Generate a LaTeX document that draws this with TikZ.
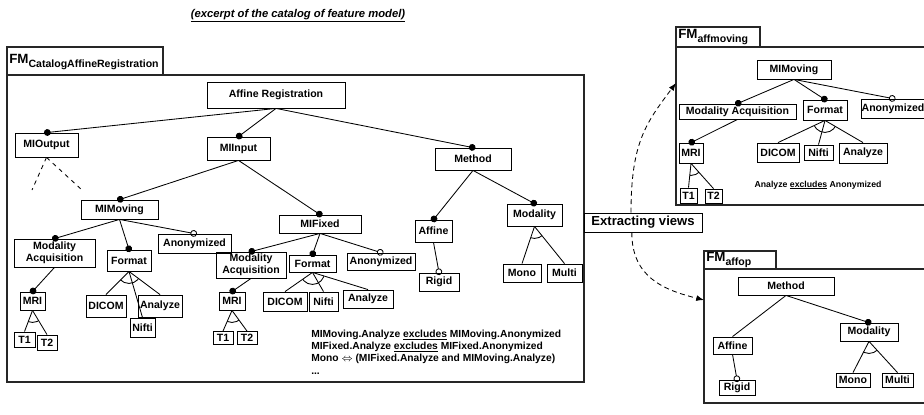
\documentclass[tikz,border=0pt]{standalone}
\usepackage{fontspec}
\setmainfont{Liberation Sans}
\usepackage{amsmath}
\usepackage{xcolor}
\usepackage{tikz}
\usetikzlibrary{arrows.meta}

\begin{document}
\begin{tikzpicture}[x=0.025cm, y=-0.025cm,
                    feat/.style={draw, line width=0.6pt, inner sep=0pt, align=center,
                                 font=\bfseries\fontsize{7.5}{8.5}\selectfont},
                    box/.style 2 args={minimum width=#1*0.025cm, minimum height=#2*0.025cm},
                    fmframe/.style={line width=0.9pt, draw=black!85},
                    link/.style={line width=0.6pt},
                    mand/.style={link, -{Circle[length=4.8pt]}, shorten >=-1.8pt},
                    opt/.style={link, -{Circle[open, length=4.8pt]}, shorten >=-1.8pt},
                    extract/.style={line width=0.6pt, dash pattern=on 3.5pt off 2.5pt, -{Latex[length=5.5pt]}}]
                    \useasboundingbox (0,0) rectangle (924,414);
                    \node [font=\bfseries\itshape\fontsize{8}{9}\selectfont] (title) at (298,16) {\underline{(excerpt of the catalog of feature model)}};

                    \draw [fmframe] (7,47) rectangle (163,75);
                    \draw [fmframe] (7,75) rectangle (584,382);
                    \node [anchor=west, inner sep=0pt] (fmcat) at (9,62) {{\bfseries\fontsize{9.5}{11}\selectfont FM}\raisebox{-2.5pt}{\bfseries\fontsize{7.5}{8}\selectfont CatalogAffineRegistration}};

                    \node [feat, box={138}{26}] (ar) at (276,95) {Affine Registration};
                    \node [feat, box={63}{24}] (mio) at (46.5,145) {MIOutput};
                    \node [feat, box={63}{23}] (mii) at (238.5,148.5) {MIInput};
                    \node [feat, box={76}{22}] (meth) at (473,159) {Method};
                    \node [feat, box={77}{19}] (mim) at (119.5,209.5) {MIMoving};
                    \node [feat, box={82}{18}] (mif) at (320,224) {MIFixed};

                    \node [feat, box={81}{28}] (mam) at (54.5,253) {Modality\\Acquisition};
                    \node [feat, box={44}{21}] (fom) at (129,260.5) {Format};
                    \node [feat, box={73}{19}] (anm) at (194.5,243.5) {Anonymized};
                    \node [feat, box={25}{18}] (mrm) at (32.5,301) {MRI};
                    \node [feat, box={21}{15}] (t1m) at (24.5,339.5) {T1};
                    \node [feat, box={20}{15}] (t2m) at (47,342.5) {T2};
                    \node [feat, box={40}{22}] (dim) at (106,306) {DICOM};
                    \node [feat, box={25}{19}] (nim) at (142.5,327.5) {Nifti};
                    \node [feat, box={44}{22}] (azm) at (160,306) {Analyze};

                    \node [feat, box={70}{26}] (maf) at (251,265) {Modality\\Acquisition};
                    \node [feat, box={47}{17}] (fof) at (312.5,263.5) {Format};
                    \node [feat, box={68}{17}] (anf) at (381,261.5) {Anonymized};
                    \node [feat, box={26}{18}] (mrf) at (232,301) {MRI};
                    \node [feat, box={20}{13}] (t1f) at (223,338) {T1};
                    \node [feat, box={20}{13}] (t2f) at (247,338) {T2};
                    \node [feat, box={44}{19}] (dif) at (285,301.5) {DICOM};
                    \node [feat, box={29}{19}] (nif) at (323.5,301.5) {Nifti};
                    \node [feat, box={50}{18}] (azf) at (368,299) {Analyze};

                    \node [feat, box={37}{22}] (afm) at (433.5,231) {Affine};
                    \node [feat, box={40}{18}] (rig) at (439,282) {Rigid};
                    \node [feat, box={55}{22}] (mod) at (534.5,215) {Modality};
                    \node [feat, box={38}{18}] (mono) at (522,273) {Mono};
                    \node [feat, box={35}{18}] (multi) at (564.5,273) {Multi};

                    \node [anchor=north west, align=left, inner sep=0pt, font=\bfseries\fontsize{7.3}{8.6}\selectfont] (cons) at (311,330)
                          {MIMoving.Analyze \underline{excludes} MIMoving.Anonymized\\
                           MIFixed.Analyze \underline{excludes} MIFixed.Anonymized\\
                           Mono $\Leftrightarrow$ (MIFixed.Analyze and MIMoving.Analyze)\\
                           ...};

                    \coordinate (mioa) at (32,190);
                    \coordinate (miob) at (82,190);
                    \draw [link, dashed] (mio.south) -- (mioa);
                    \draw [link, dashed] (mio.south) -- (miob);

                    \draw [fmframe] (924,47) -- (676,47) -- (676,205) -- (924,205);
                    \draw [fmframe] (676,47) -- (676,27) -- (760,27) -- (760,47);
                    \node [anchor=west, inner sep=0pt] (fmmov) at (678,37) {{\bfseries\fontsize{9.5}{11}\selectfont FM}\raisebox{-2.5pt}{\bfseries\fontsize{7.5}{8}\selectfont affmoving}};

                    \node [feat, box={74}{19}] (vmim) at (794,69.5) {MIMoving};
                    \node [feat, box={117}{15}] (vmam) at (737.5,111.5) {Modality Acquisition};
                    \node [feat, box={44}{20}] (vfom) at (825,110) {Format};
                    \node [feat, box={62}{19}] (vanm) at (893,108.5) {Anonymized};
                    \node [feat, box={24}{20}] (vmrm) at (691,153) {MRI};
                    \node [feat, box={17}{15}] (vt1) at (688.5,195.5) {T1};
                    \node [feat, box={17}{14}] (vt2) at (713.5,196) {T2};
                    \node [feat, box={42}{19}] (vdim) at (778,152.5) {DICOM};
                    \node [feat, box={29}{15}] (vnim) at (818.5,152.5) {Nifti};
                    \node [feat, box={48}{20}] (vazm) at (863,153) {Analyze};
                    \node [font=\bfseries\fontsize{6.2}{7}\selectfont] (vcons) at (818,185) {Analyze \underline{excludes} Anonymized};

                    \draw [fmframe] (924,269) -- (704,269) -- (704,403) -- (924,403);
                    \draw [fmframe] (704,269) -- (704,251) -- (776,251) -- (776,269);
                    \node [anchor=west, inner sep=0pt] (fmop) at (706,260) {{\bfseries\fontsize{9.5}{11}\selectfont FM}\raisebox{-2.5pt}{\bfseries\fontsize{7.5}{8}\selectfont affop}};

                    \node [feat, box={96}{18}] (vmeth) at (786,286) {Method};
                    \node [feat, box={39}{17}] (vafm) at (732.5,345.5) {Affine};
                    \node [feat, box={36}{15}] (vrig) at (737,387.5) {Rigid};
                    \node [feat, box={58}{18}] (vmod) at (869,332) {Modality};
                    \node [feat, box={34}{14}] (vmono) at (853,380) {Mono};
                    \node [feat, box={31}{14}] (vmulti) at (897.5,380) {Multi};

                    \node [feat, fill=white, box={118}{19}, font=\bfseries\fontsize{9.3}{11}\selectfont] (ext) at (643,222.5) {Extracting views};
                    \coordinate (amin) at (676,83);
                    \coordinate (apin) at (704,300);
                    \draw [extract] ([xshift=-0.3cm]ext.north) .. controls +(0,-70) and +(-30,40) .. (amin);
                    \draw [extract] ([xshift=-0.28cm]ext.south) .. controls +(0,45) and +(-40,-10) .. (apin);

                    \foreach \p/\c in {ar/mio, ar/mii, ar/meth, mii/mim, mii/mif, meth/afm, meth/mod,
                                       mim/mam, mim/fom, mam/mrm, mif/maf, mif/fof, maf/mrf,
                                       vmim/vmam, vmim/vfom, vmam/vmrm, vmeth/vmod}
                        \draw [mand] (\p.south) -- (\c.north);
                    \foreach \p/\c in {mim/anm, mif/anf, afm/rig, vmim/vanm, vafm/vrig}
                        \draw [opt] (\p.south) -- (\c.north);
                    \draw [link] (vmeth.south) -- (vafm.north);

                    \foreach \p/\c in {mrm/t1m, mrm/t2m, fom/dim, fom/nim, fom/azm, mrf/t1f, mrf/t2f,
                                       fof/dif, fof/nif, fof/azf, mod/mono, mod/multi,
                                       vmrm/vt1, vmrm/vt2, vfom/vdim, vfom/vnim, vfom/vazm, vmod/vmono, vmod/vmulti}
                        \draw [link] (\p.south) -- (\c.north);
                    \foreach \p/\a/\b in {mrm/t1m/t2m, fom/dim/azm, mrf/t1f/t2f, fof/dif/azf, mod/mono/multi,
                                          vmrm/vt1/vt2, vfom/vdim/vazm, vmod/vmono/vmulti}
                        {
                        \begin{scope}
                            \clip (\p.south) -- (\a.north) -- (\b.north) -- cycle;
                            \draw [link] (\p.south) circle (0.3cm);
                        \end{scope}
                        }
                \end{tikzpicture}
\end{document}
